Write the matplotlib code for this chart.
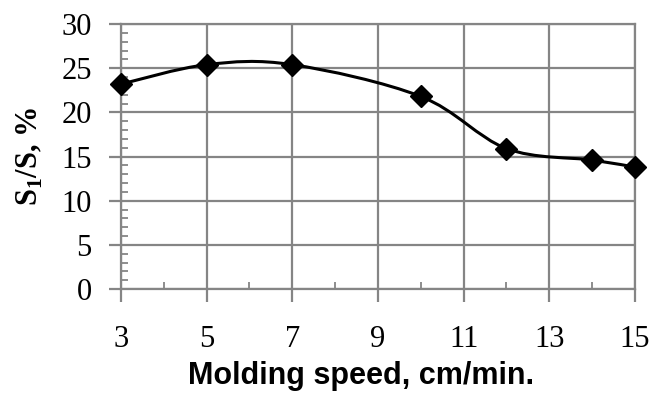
import matplotlib
matplotlib.use("Agg")
import matplotlib.pyplot as plt
import numpy as np
from matplotlib.path import Path
from matplotlib.patches import PathPatch
from matplotlib.ticker import FixedLocator, MultipleLocator

# Molding speed (cm/min) vs S1/S (%)
SPEED = [3, 5, 7, 10, 12, 14, 15]
RATIO = [23.2, 25.4, 25.4, 21.8, 15.9, 14.6, 13.8]
X_MAJOR = [3, 5, 7, 9, 11, 13, 15]
X_MINOR = [4, 6, 8, 10, 12, 14]

GRID = "#858585"
SERIF = "Liberation Serif"
SANS = "Liberation Sans"

plt.rcParams["mathtext.fontset"] = "custom"
plt.rcParams["mathtext.rm"] = "Liberation Serif"
plt.rcParams["mathtext.bf"] = "Liberation Serif:bold"


def smooth_path(x, y):
    """Bezier path through the points, Catmull-Rom style (1/6 tangents)."""
    pts = np.column_stack([x, y]).astype(float)
    ext = np.vstack([pts[0], pts, pts[-1]])
    verts = [pts[0]]
    codes = [Path.MOVETO]
    for i in range(1, len(ext) - 2):
        p0, p1, p2, p3 = ext[i - 1], ext[i], ext[i + 1], ext[i + 2]
        c1 = p1 + (p2 - p0) / 6.0
        c2 = p2 - (p3 - p1) / 6.0
        verts += [c1, c2, p2]
        codes += [Path.CURVE4] * 3
    return Path(verts, codes)


fig = plt.figure(figsize=(6.53, 3.94), dpi=100)
ax = fig.add_axes([0.1853, 0.2665, 0.7871, 0.6725])

ax.add_patch(PathPatch(smooth_path(SPEED, RATIO), facecolor="none",
                       edgecolor="black", linewidth=2.2, zorder=3))
ax.plot(SPEED, RATIO, linestyle="none", marker="D", markersize=11,
        color="black", zorder=4, clip_on=False)

ax.set_xlim(3, 15)
ax.set_ylim(0, 30)
ax.xaxis.set_major_locator(FixedLocator(X_MAJOR))
ax.xaxis.set_minor_locator(FixedLocator(X_MINOR))
ax.yaxis.set_major_locator(MultipleLocator(5))
ax.yaxis.set_minor_locator(MultipleLocator(1))

ax.grid(which="major", color=GRID, linewidth=1.6)
ax.set_axisbelow(True)
for side in ["left", "right", "top", "bottom"]:
    ax.spines[side].set_color(GRID)
    ax.spines[side].set_linewidth(1.6)

ax.tick_params(which="major", direction="out", length=9, width=1.6,
               color=GRID, labelsize=22)
ax.tick_params(axis="x", which="major", pad=17)
ax.tick_params(axis="y", which="major", pad=12)
ax.tick_params(which="minor", direction="in", length=5, width=1.3, color=GRID)
for lbl in ax.get_xticklabels() + ax.get_yticklabels():
    lbl.set_fontfamily(SERIF)

ax.set_xlabel("Molding speed, cm/min.", fontfamily=SANS, fontweight="bold",
              fontsize=22, labelpad=5, x=0.467)
ax.set_ylabel(r"S$_\mathbf{1}$/S, %", fontfamily=SERIF, fontweight="bold",
              fontsize=22, labelpad=12)

fig.savefig("out.png", dpi=100)
